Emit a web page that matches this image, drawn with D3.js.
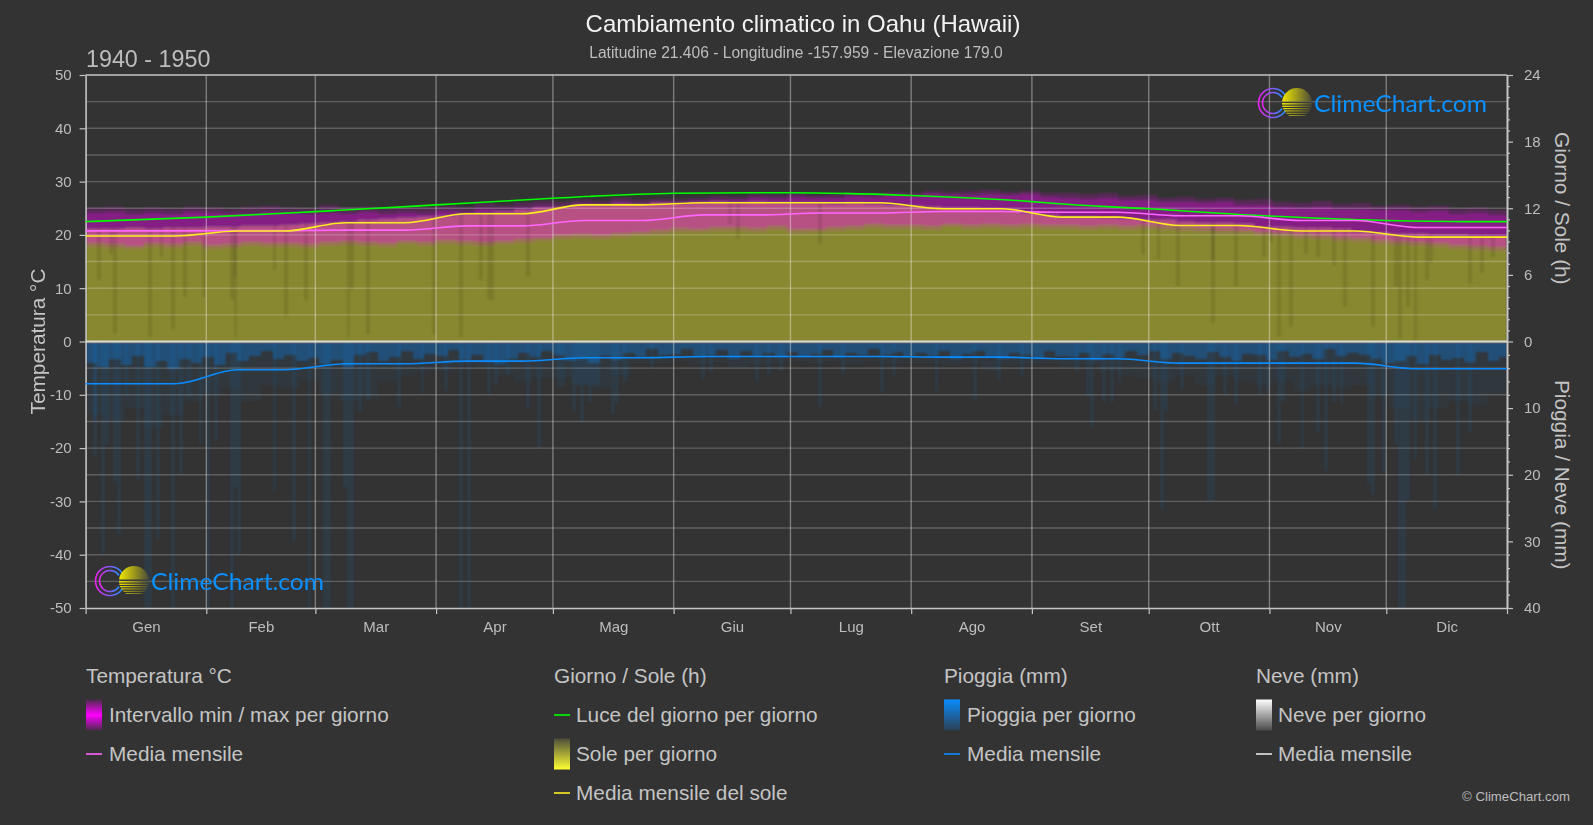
<!doctype html>
<html lang="it">
<head>
<meta charset="UTF-8" />
<title>Cambiamento climatico in Oahu (Hawaii)</title>
<script src="https://cdn.jsdelivr.net/npm/d3@7/dist/d3.min.js"></script>
<style>
  html, body { margin: 0; background: #333; }
  svg { display: block; font-family: "Liberation Sans", Arial, sans-serif; }
  .tick text { fill: #bdbdbd; font-size: 15px; }
  .tick line, .domain { stroke: #c4c4c4; }
</style>
</head>
<body>
<div id="chart"></div>
<script>
const months = ["Gen","Feb","Mar","Apr","Mag","Giu","Lug","Ago","Set","Ott","Nov","Dic"];
const monthStart = [0,31,59,90,120,151,181,212,243,273,304,334,365];

// monthly means
const tempMean = [20.75,20.8,20.9,21.7,22.7,23.75,24.1,24.4,24.25,23.6,22.7,21.4];
const sunMean = [9.5,9.95,10.7,11.5,12.3,12.5,12.5,11.95,11.2,10.45,9.95,9.4];
const rainMean = [6.35,4.25,3.35,2.95,2.45,2.25,2.25,2.35,2.6,3.25,3.25,4.1];
const snowMean = [0,0,0,0,0,0,0,0,0,0,0,0];

// daylight hours
const daylightDays = [0,31,59,90,120,151,172,181,212,243,250,273,304,334,355,365];
const daylightHours = [10.8,11.2,11.7,12.3,12.9,13.35,13.4,13.4,13.15,12.6,12.4,11.95,11.3,10.9,10.8,10.8];

// 5 day bins, C
const tempPeak = [25.0,25.2,24.8,25.1,24.9,25.3,25.0,24.8,25.2,25.4,
  25.1,24.9,25.6,25.0,25.3,24.8,25.1,25.0,25.5,25.2,
  25.9,25.6,26.0,26.3,26.1,26.6,26.4,26.9,26.5,26.8,
  26.7,27.0,27.3,27.1,27.6,27.4,27.8,27.5,27.7,27.9,
  27.8,28.1,27.9,28.3,28.0,28.2,28.4,28.1,28.3,27.9,
  27.9,27.6,27.8,27.3,27.5,26.9,27.1,26.8,27.0,26.5,
  26.7,26.2,26.0,26.3,25.8,25.9,25.5,25.6,25.2,25.4,24.9,25.0,24.7];
const tempHigh = [24.1,24.3,23.9,24.2,24.0,24.3,24.1,23.9,24.0,24.3,
  24.1,23.9,24.2,24.0,24.3,23.9,24.1,24.0,24.4,24.3,
  24.8,24.7,25.0,25.4,25.3,25.8,25.6,26.1,25.8,26.1,
  26.0,26.3,26.6,26.5,26.9,26.8,27.1,26.9,27.0,27.3,
  27.2,27.5,27.3,27.6,27.4,27.5,27.7,27.4,27.6,27.2,
  27.0,26.8,26.9,26.5,26.6,26.1,26.2,25.9,26.1,25.7,
  25.7,25.3,25.1,25.3,24.9,24.9,24.6,24.6,24.3,24.4,24.0,24.1,23.8];
const tempLow = [18.4,18.2,18.0,18.5,18.3,18.6,18.1,18.3,18.6,18.4,
  18.5,18.2,18.6,18.8,18.7,18.5,18.9,18.7,19.0,18.8,
  18.6,18.9,19.2,19.5,19.9,20.1,20.0,20.3,20.6,20.9,
  21.3,21.2,21.5,21.4,21.3,21.6,21.1,21.2,21.4,21.7,
  22.0,21.8,21.9,21.7,22.1,21.9,22.0,21.8,22.0,21.9,
  21.8,21.7,21.9,21.6,21.8,21.7,21.5,21.3,21.1,21.0,
  20.6,20.4,20.1,20.0,19.6,19.4,19.0,18.8,18.6,18.4,18.1,17.9,17.7];

// 5 day bins, hours
const sunTop = [10.1,10.1,10.2,10.1,10.2,10.2,10.3,10.3,10.4,10.4,
  10.5,10.6,10.7,10.8,10.9,11.0,11.1,11.2,11.3,11.5,
  11.6,11.7,11.8,12.0,12.1,12.3,12.3,12.4,12.4,12.5,
  12.5,12.5,12.6,12.5,12.6,12.5,12.5,12.5,12.4,12.5,
  12.4,12.3,12.2,12.1,12.0,12.0,11.9,11.8,11.6,11.4,
  11.2,11.2,11.1,11.0,10.9,10.9,10.8,10.7,10.7,10.6,
  10.3,10.3,10.2,10.2,10.1,9.9,9.8,9.7,9.7,9.6,9.6,9.5,9.5];

// cloudy days, dark streaks in the sun area
const dipDays = [3,6,7,16,19,22,25,30,37,38,38,48,51,56,67,68,72,89,96,101,103,104,113,165,167,188,
  271,275,280,289,289,295,302,304,306,309,313,316,320,323,330,336,337,339,341,344,345,355,358,361];
const dipHours = [5.5,7.9,0.7,0.4,7.6,1,4,4,3.7,5.8,0.4,6.4,2.2,3.7,0.4,4.6,0.7,0.7,0.4,5.5,3.7,3.7,5.8,10.6,9.2,8.8,
  7.9,7.3,5,7.3,1.7,5,7.6,9,0.4,1.3,7.9,7.6,6.8,3.1,1.3,4.9,0.2,3.1,0,5.5,7.1,5.2,6.2,7.6];

// wettest days
const rainDays = [2,2,4,5,7,8,10,13,15,16,18,22,24,26,29,31,33,37,38,39,48,53,57,61,62,66,67,68,70,72,80,86,
  92,96,98,103,105,108,113,116,121,122,125,126,127,128,129,130,131,135,136,138,145,158,160,172,175,178,188,194,204,207,218,228,234,240,
  254,257,258,261,263,265,274,276,277,281,288,289,292,295,301,303,306,307,312,316,318,320,322,329,330,333,336,337,338,339,341,344,346,352,355];
const rainMm = [11.9,17.4,31.9,15.4,20.9,28.9,8.4,20.6,40,40,29.6,40,19.9,8.4,15.4,40,14.9,40,21.9,31.9,22.4,29.9,40,40,40,21.9,40,40,10.4,8.9,9.9,7.9,
  7.4,40,40,7.9,6.4,4.9,10.1,15.9,6.9,6.9,10.6,6.6,12.1,6.6,9.1,6.6,6.6,10.9,9.4,6.1,3.9,5.6,4.6,5.9,4.9,4.4,9.9,4.9,7.6,5.1,7.6,8.6,5.9,5.4,
  4.6,8.4,12.9,8.9,9.1,6.1,10.4,25.1,10.4,7.1,23.9,23.9,8.1,9.4,7.9,7.9,15.4,8.9,15.9,13.6,19.4,9.1,9.4,21.6,23.1,19.9,15.4,40,40,23.9,17.6,20.1,25.1,19.9,13.6];

// 5 day bins, mm
const rainHaze = [11,12,10,13,11,9, 8,7,9,6.5,7,6, 8,9,8.5,6,5,4.5, 4.5,3.5,4,5,6,5.5,
  5.5,6.5,7,5,3.2,3.3, 3,3.4,3.1,4,3.5,3.2, 3,3.3,3,3.4,3,3.2, 3.3,3.2,3.5,3.3,4.5,3.5,
  3.5,3.2,3.8,3.5,4.5,5, 5.5,6,5,6.5,5,6, 6.5,6,7.5,6.5,7,6.5, 8,10,12,10,9,9.5,8];
// 3 day bins, mm
const rainCore = [3.2,3.8,2.6,3.5,2.2,3.9,3.0,4.1,2.7,3.3,
  2.4,3.6,1.8,2.9,2.2,1.4,2.7,2.0,3.0,
  2.5,3.4,2.8,3.9,2.1,1.6,2.9,2.3,1.5,2.7,1.9,
  2.2,1.3,2.8,2.0,3.1,3.4,2.6,1.7,2.4,1.5,
  2.0,3.0,2.6,3.3,2.2,2.8,1.7,2.4,1.2,2.0,
  1.9,1.1,2.3,2.0,1.3,2.6,1.5,2.2,1.8,2.4,
  1.6,2.3,1.9,1.3,2.4,1.7,2.0,1.2,2.1,1.6,
  2.4,1.8,2.2,1.5,2.6,1.9,1.4,2.3,2.7,1.8,
  2.0,2.6,1.5,2.2,2.4,1.7,2.8,1.9,2.5,1.4,
  2.0,1.4,2.6,1.8,2.2,2.7,1.6,2.3,2.9,1.9,
  2.1,2.8,1.5,2.4,1.9,2.6,1.2,2.2,1.7,2.0,
  2.6,3.2,2.9,2.2,3.4,2.0,2.8,2.5,3.1,1.6,3.0,2.4];

const width = 1593, height = 825;
const plotLeft = 85.6, plotRight = 1507, plotTop = 75, plotMid = 341.5, plotBottom = 608;

const svg = d3.select("#chart").append("svg").attr("width", width).attr("height", height);
const defs = svg.append("defs");

const x = d3.scaleLinear().domain([0, 365]).range([plotLeft, plotRight]);
const yTemp = d3.scaleLinear().domain([-50, 50]).range([plotBottom, plotTop]);
const ySun = d3.scaleLinear().domain([0, 24]).range([plotMid, plotTop]);
const yRain = d3.scaleLinear().domain([0, 40]).range([plotMid, plotBottom]).clamp(true);

function vGradient(id, stops) {
  const g = defs.append("linearGradient").attr("id", id)
    .attr("x1", 0).attr("y1", 0).attr("x2", 0).attr("y2", 1);
  stops.forEach(s => g.append("stop").attr("offset", s[0]).attr("stop-color", s[1]));
}
vGradient("gradTemp", [[0, "#4a2a4a"], [0.5, "#ff00ff"], [1, "#4a2a4a"]]);
vGradient("gradSun", [[0, "#4d4d3a"], [1, "#ffff33"]]);
vGradient("gradRain", [[0, "#0a8cff"], [1, "#2b3f50"]]);
vGradient("gradSnow", [[0, "#ffffff"], [1, "#4a4a4a"]]);

// soften the bars a little
defs.append("filter").attr("id", "soft")
  .attr("filterUnits", "userSpaceOnUse")
  .attr("x", 0).attr("y", 0).attr("width", width).attr("height", height)
  .append("feGaussianBlur").attr("stdDeviation", 1.1);
defs.append("clipPath").attr("id", "plotClip").append("rect")
  .attr("x", plotLeft).attr("y", plotTop)
  .attr("width", plotRight - plotLeft).attr("height", plotBottom - plotTop);

// bars in day bins
function bins(parent, values, step, y0, y1, fill, opacity) {
  parent.append("g").attr("shape-rendering", "crispEdges")
    .selectAll("rect").data(values).enter().append("rect")
    .attr("x", (_, i) => x(i * step))
    .attr("width", (_, i) => x(Math.min(i * step + step, 365)) - x(i * step))
    .attr("y", (d, i) => Math.min(y0(d, i), y1(d, i)))
    .attr("height", (d, i) => Math.abs(y1(d, i) - y0(d, i)))
    .attr("fill", fill).attr("opacity", opacity);
}

const marks = svg.append("g").attr("clip-path", "url(#plotClip)")
  .append("g").attr("filter", "url(#soft)");

// sun
bins(marks, sunTop, 5, d => ySun(d), () => ySun(0), "#ffff33", 0.42);

// temperature range
bins(marks, tempPeak, 5, d => yTemp(d), (_, i) => yTemp(tempHigh[i]), "#ff00ff", 0.18);
bins(marks, tempHigh, 5, d => yTemp(d), (_, i) => yTemp(tempLow[i]), "#ff00ff", 0.4);
bins(marks, tempLow, 5, d => yTemp(d), d => yTemp(d - 0.7), "#ff00ff", 0.14);

// streaks
marks.append("g").attr("shape-rendering", "crispEdges")
  .selectAll("rect").data(dipDays).enter().append("rect")
  .attr("x", d => x(d))
  .attr("width", d => x(d + 1) - x(d))
  .attr("y", d => ySun(sunTop[Math.floor(d / 5)]))
  .attr("height", (d, i) => ySun(dipHours[i]) - ySun(sunTop[Math.floor(d / 5)]))
  .attr("fill", "#000").attr("opacity", 0.1);

// rain
bins(marks, rainHaze, 5, () => yRain(0), d => yRain(d), "#0a8cff", 0.05);
bins(marks, rainCore, 3, () => yRain(0), d => yRain(d), "#0a8cff", 0.3);
marks.append("g").attr("shape-rendering", "crispEdges")
  .selectAll("rect").data(rainDays).enter().append("rect")
  .attr("x", d => x(d))
  .attr("width", d => x(d + 1) - x(d))
  .attr("y", yRain(0))
  .attr("height", (_, i) => yRain(rainMm[i]) - yRain(0))
  .attr("fill", "#0a8cff").attr("opacity", 0.085);

// grid
const grid = svg.append("g");
grid.selectAll(".h").data(d3.range(-45, 50, 5).filter(d => d !== 0)).enter().append("line")
  .attr("x1", plotLeft).attr("x2", plotRight)
  .attr("y1", d => yTemp(d)).attr("y2", d => yTemp(d))
  .attr("stroke", "#fff").attr("stroke-opacity", 0.22).attr("stroke-width", 1.4);
grid.selectAll(".v").data(monthStart.slice(1, 12)).enter().append("line")
  .attr("x1", d => x(d)).attr("x2", d => x(d))
  .attr("y1", plotTop).attr("y2", plotBottom)
  .attr("stroke", "#fff").attr("stroke-opacity", 0.36).attr("stroke-width", 1.4);

// axes
function styleAxis(g) {
  g.selectAll(".domain").attr("stroke-width", 1.6);
  g.selectAll(".tick line").attr("stroke-width", 1.2);
}
svg.append("g").attr("transform", `translate(${plotLeft},0)`)
  .call(d3.axisLeft(yTemp).tickValues(d3.range(-50, 51, 10)).tickSize(6).tickPadding(8).tickSizeOuter(0).tickFormat(d => String(d)))
  .call(styleAxis);

svg.append("g").attr("transform", `translate(${plotRight},0)`)
  .call(d3.axisRight(ySun).tickValues(d3.range(0, 25, 6)).tickSize(6).tickPadding(11).tickSizeOuter(0))
  .call(styleAxis);
svg.append("g").attr("transform", `translate(${plotRight},0)`)
  .call(d3.axisRight(ySun).tickValues(d3.range(1, 24).filter(d => d % 6)).tickSize(3).tickFormat("").tickSizeOuter(0))
  .call(styleAxis);
svg.append("g").attr("transform", `translate(${plotRight},0)`)
  .call(d3.axisRight(yRain).tickValues(d3.range(10, 41, 10)).tickSize(6).tickPadding(11).tickSizeOuter(0))
  .call(styleAxis);
svg.append("g").attr("transform", `translate(${plotRight},0)`)
  .call(d3.axisRight(yRain).tickValues(d3.range(2, 40, 2).filter(d => d % 10)).tickSize(3).tickFormat("").tickSizeOuter(0))
  .call(styleAxis);

svg.append("g").attr("transform", `translate(0,${plotBottom})`)
  .call(d3.axisBottom(x).tickValues(monthStart).tickSize(6).tickFormat("").tickSizeOuter(0))
  .call(styleAxis);
const monthMid = months.map((_, i) => (monthStart[i] + monthStart[i + 1]) / 2);
svg.append("g").attr("transform", `translate(0,${plotBottom})`)
  .call(d3.axisBottom(x).tickValues(monthMid).tickSize(0).tickPadding(13).tickFormat((_, i) => months[i]))
  .call(g => g.select(".domain").remove());

svg.append("line").attr("x1", plotLeft).attr("x2", plotRight).attr("y1", plotTop).attr("y2", plotTop)
  .attr("stroke", "#c4c4c4").attr("stroke-width", 1.6);

// monthly lines, flat through the middle of each month
function monthKnots(values) {
  const pts = [];
  values.forEach((v, i) => {
    const a = i === 0 ? 0 : monthStart[i] + 8;
    const b = i === 11 ? 365 : monthStart[i + 1] - 8;
    pts.push([a, v], [b, v]);
  });
  return pts;
}
function drawLine(pts, y, color, w) {
  const line = d3.line().x(d => x(d[0])).y(d => y(d[1])).curve(d3.curveMonotoneX);
  svg.append("path").attr("d", line(pts)).attr("fill", "none")
    .attr("stroke", color).attr("stroke-width", w || 1.6);
}
drawLine(monthKnots(snowMean), yRain, "#dcdcd0", 2.2);
drawLine(monthKnots(rainMean), yRain, "#0a8cff");
drawLine(daylightDays.map((d, i) => [d, daylightHours[i]]), ySun, "#00ff00");
drawLine(monthKnots(tempMean), yTemp, "#ff66ff");
drawLine(monthKnots(sunMean), ySun, "#ffee22");

// titles
function label(txt, px, py, size, color, anchor) {
  return svg.append("text").text(txt).attr("x", px).attr("y", py)
    .attr("font-size", size).attr("fill", color || "#c4c4c4")
    .attr("text-anchor", anchor || "start");
}
label("Cambiamento climatico in Oahu (Hawaii)", 803, 31.5, 24, "#f2f2f2", "middle");
label("Latitudine 21.406 - Longitudine -157.959 - Elevazione 179.0", 796, 58, 15.6, "#bdbdbd", "middle");
label("1940 - 1950", 86, 67, 23.3, "#bdbdbd");

label("Temperatura °C", 0, 0, 20.8).attr("text-anchor", "middle")
  .attr("transform", `translate(45,${plotMid}) rotate(-90)`);
label("Giorno / Sole (h)", 0, 0, 20.8).attr("text-anchor", "middle")
  .attr("transform", `translate(1555,${ySun(12)}) rotate(90)`);
label("Pioggia / Neve (mm)", 0, 0, 20.8).attr("text-anchor", "middle")
  .attr("transform", `translate(1555,${yRain(20)}) rotate(90)`);

// legend
const legendRows = [676, 715, 754, 793];
function legendSwatch(px, row, grad, h) {
  svg.append("rect").attr("x", px).attr("y", legendRows[row] - h / 2)
    .attr("width", 16).attr("height", h).attr("fill", `url(#${grad})`);
}
function legendDash(px, row, color) {
  svg.append("line").attr("x1", px).attr("x2", px + 16)
    .attr("y1", legendRows[row]).attr("y2", legendRows[row])
    .attr("stroke", color).attr("stroke-width", 1.6);
}
function legendText(txt, px, row) {
  label(txt, px, legendRows[row] + 7, 20.8);
}
legendText("Temperatura °C", 86, 0);
legendSwatch(86, 1, "gradTemp", 31);
legendText("Intervallo min / max per giorno", 109, 1);
legendDash(86, 2, "#ff66ff");
legendText("Media mensile", 109, 2);

legendText("Giorno / Sole (h)", 554, 0);
legendDash(554, 1, "#00ff00");
legendText("Luce del giorno per giorno", 576, 1);
legendSwatch(554, 2, "gradSun", 31);
legendText("Sole per giorno", 576, 2);
legendDash(554, 3, "#ffee22");
legendText("Media mensile del sole", 576, 3);

legendText("Pioggia (mm)", 944, 0);
legendSwatch(944, 1, "gradRain", 31);
legendText("Pioggia per giorno", 967, 1);
legendDash(944, 2, "#0a8cff");
legendText("Media mensile", 967, 2);

legendText("Neve (mm)", 1256, 0);
legendSwatch(1256, 1, "gradSnow", 31);
legendText("Neve per giorno", 1278, 1);
legendDash(1256, 2, "#e8e8e8");
legendText("Media mensile", 1278, 2);

label("© ClimeChart.com", 1570, 801, 13.2, "#bdbdbd", "end");

// logo
const ringGrad = defs.append("linearGradient").attr("id", "logoRing");
ringGrad.append("stop").attr("offset", 0).attr("stop-color", "#f020f0");
ringGrad.append("stop").attr("offset", 1).attr("stop-color", "#2090ff");
const sunGrad = defs.append("linearGradient").attr("id", "logoSun");
sunGrad.append("stop").attr("offset", 0).attr("stop-color", "#f2e800");
sunGrad.append("stop").attr("offset", 1).attr("stop-color", "#4a4a38");
defs.append("clipPath").attr("id", "logoClip").append("circle").attr("cx", 24).attr("cy", 0).attr("r", 15);

const logoStripes = [[-15, 13.5], [0, 1.6], [2.6, 1.4], [5, 1.3], [7.4, 1.1], [9.8, 0.9], [12, 0.8]];
function logo(cx, cy) {
  const g = svg.append("g").attr("transform", `translate(${cx},${cy})`);
  const arc = d3.arc().startAngle(Math.PI / 2 + 0.55).endAngle(Math.PI * 2.5 - 0.55);
  [14.5, 10.5].forEach(r => {
    g.append("path").attr("d", arc.innerRadius(r - 0.8).outerRadius(r + 0.8)())
      .attr("fill", "url(#logoRing)");
  });
  const s = g.append("g").attr("clip-path", "url(#logoClip)");
  s.selectAll("rect").data(logoStripes).enter().append("rect")
    .attr("x", 9).attr("width", 30).attr("y", d => d[0]).attr("height", d => d[1])
    .attr("fill", "url(#logoSun)");
  g.append("text").text("ClimeChart.com").attr("x", 41).attr("y", 9)
    .attr("font-family", "Lato, sans-serif").attr("font-weight", 400).attr("font-size", 24).attr("fill", "#0a90ff")
    .attr("textLength", 173).attr("lengthAdjust", "spacingAndGlyphs");
}
logo(1273, 103);
logo(110, 581);
</script>
</body>
</html>
